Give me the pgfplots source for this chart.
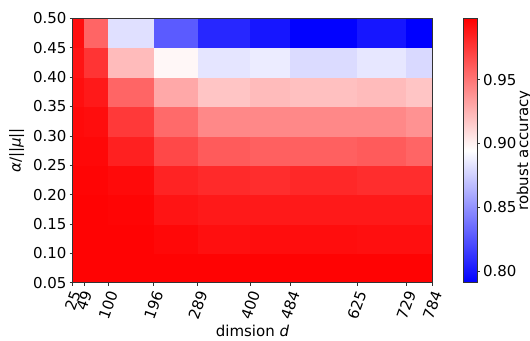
\documentclass[border=0pt]{standalone}
\usepackage{pgfplots}
\pgfplotsset{compat=1.18}
\usepackage{pgfplotstable}
\usepackage{fontspec}
\setmainfont{DejaVu Sans}
\usepackage{graphicx}
\pgfplotstableread{
x y c
25 0.05 0.997
49 0.05 0.997
100 0.05 0.997
196 0.05 0.997
289 0.05 0.997
400 0.05 0.997
484 0.05 0.997
625 0.05 0.997
729 0.05 0.997
784 0.05 0.997
25 0.10 0.997
49 0.10 0.997
100 0.10 0.997
196 0.10 0.995
289 0.10 0.992
400 0.10 0.993
484 0.10 0.993
625 0.10 0.992
729 0.10 0.992
784 0.10 0.992
25 0.15 0.997
49 0.15 0.997
100 0.15 0.996
196 0.15 0.990
289 0.15 0.988
400 0.15 0.988
484 0.15 0.988
625 0.15 0.988
729 0.15 0.988
784 0.15 0.988
25 0.20 0.996
49 0.20 0.996
100 0.20 0.994
196 0.20 0.984
289 0.20 0.981
400 0.20 0.980
484 0.20 0.982
625 0.20 0.980
729 0.20 0.980
784 0.20 0.980
25 0.25 0.995
49 0.25 0.995
100 0.25 0.985
196 0.25 0.969
289 0.25 0.961
400 0.25 0.959
484 0.25 0.959
625 0.25 0.961
729 0.25 0.957
784 0.25 0.957
25 0.30 0.994
49 0.30 0.993
100 0.30 0.975
196 0.30 0.955
289 0.30 0.943
400 0.30 0.943
484 0.30 0.943
625 0.30 0.943
729 0.30 0.939
784 0.30 0.939
25 0.35 0.992
49 0.35 0.988
100 0.35 0.957
196 0.35 0.930
289 0.35 0.918
400 0.35 0.922
484 0.35 0.920
625 0.35 0.922
729 0.35 0.918
784 0.35 0.918
25 0.40 0.990
49 0.40 0.977
100 0.40 0.922
196 0.40 0.898
289 0.40 0.884
400 0.40 0.887
484 0.40 0.880
625 0.40 0.885
729 0.40 0.879
784 0.40 0.879
25 0.45 0.992
49 0.45 0.957
100 0.45 0.882
196 0.45 0.828
289 0.45 0.807
400 0.45 0.800
484 0.45 0.792
625 0.45 0.800
729 0.45 0.791
784 0.45 0.791
25 0.50 0.992
49 0.50 0.957
100 0.50 0.882
196 0.50 0.828
289 0.50 0.807
400 0.50 0.800
484 0.50 0.792
625 0.50 0.800
729 0.50 0.791
784 0.50 0.791
}\heat
\begin{document}
\begin{tikzpicture}
\begin{axis}[
  name=main,
  scale only axis,
  width=359.6bp, height=264.4bp,
  xmin=25, xmax=784, ymin=0.05, ymax=0.50,
  axis on top,
  axis line style={black!80, line width=0.6bp},
  tick align=outside, tick pos=left,
  major tick length=3bp,
  every tick/.style={black!80, line width=0.6bp},
  tick label style={font=\fontsize{15bp}{18bp}\selectfont},
  label style={font=\fontsize{15bp}{18bp}\selectfont},
  xtick={25,49,100,196,289,400,484,625,729,784},
  xticklabels={\rotatebox{70}{25},\rotatebox{70}{49},\rotatebox{70}{100},\rotatebox{70}{196},\rotatebox{70}{289},\rotatebox{70}{400},\rotatebox{70}{484},\rotatebox{70}{625},\rotatebox{70}{729},\rotatebox{70}{784}},
  xticklabel style={anchor=north, inner sep=0pt, yshift=-4bp},
  ytick={0.05,0.10,0.15,0.20,0.25,0.30,0.35,0.40,0.45,0.50},
  yticklabels={0.05,0.10,0.15,0.20,0.25,0.30,0.35,0.40,0.45,0.50},
  yticklabel style={anchor=east, inner sep=0pt, xshift=-3bp},
  xlabel={dimsion \textit{d}},
  xlabel style={at={(axis description cs:0.5,-0.1816)}, anchor=center},
  ylabel={\textit{α}/||\textit{μ}||},
  ylabel style={at={(axis description cs:-0.1557,0.5)}, anchor=center},
  colormap={bwr}{rgb255=(0,0,255) rgb255=(255,255,255) rgb255=(255,0,0)},
  point meta min=0.791, point meta max=0.998,
  colorbar,
  colorbar style={
    scale only axis,
    at={(parent axis.north east)}, anchor=north west, xshift=22.7bp,
    width=13.3bp, height=264.4bp,
    axis line style={black!80, line width=0.6bp},
    ytick={0.80,0.85,0.90,0.95},
    yticklabels={0.80,0.85,0.90,0.95},
    major tick length=3bp,
    tick align=outside,
    ytick pos=right,
    yticklabel pos=right,
    yticklabel style={font=\fontsize{15bp}{18bp}\selectfont, anchor=west, inner sep=0pt, xshift=3bp},
    ylabel={robust accuracy},
    ylabel style={font=\fontsize{15bp}{18bp}\selectfont, at={(axis description cs:4.55,0.5)}, anchor=center, inner sep=0pt},
  },
]
\addplot[surf, shader=flat corner, mesh/cols=10, mesh/rows=10, point meta=explicit] table[x=x, y=y, meta=c] {\heat};
\end{axis}
\pgfresetboundingbox
\path ([shift={(-72.7bp,-58.3bp)}]main.south west) rectangle ([shift={(457.3bp,282.7bp)}]main.south west);
\end{tikzpicture}
\end{document}
